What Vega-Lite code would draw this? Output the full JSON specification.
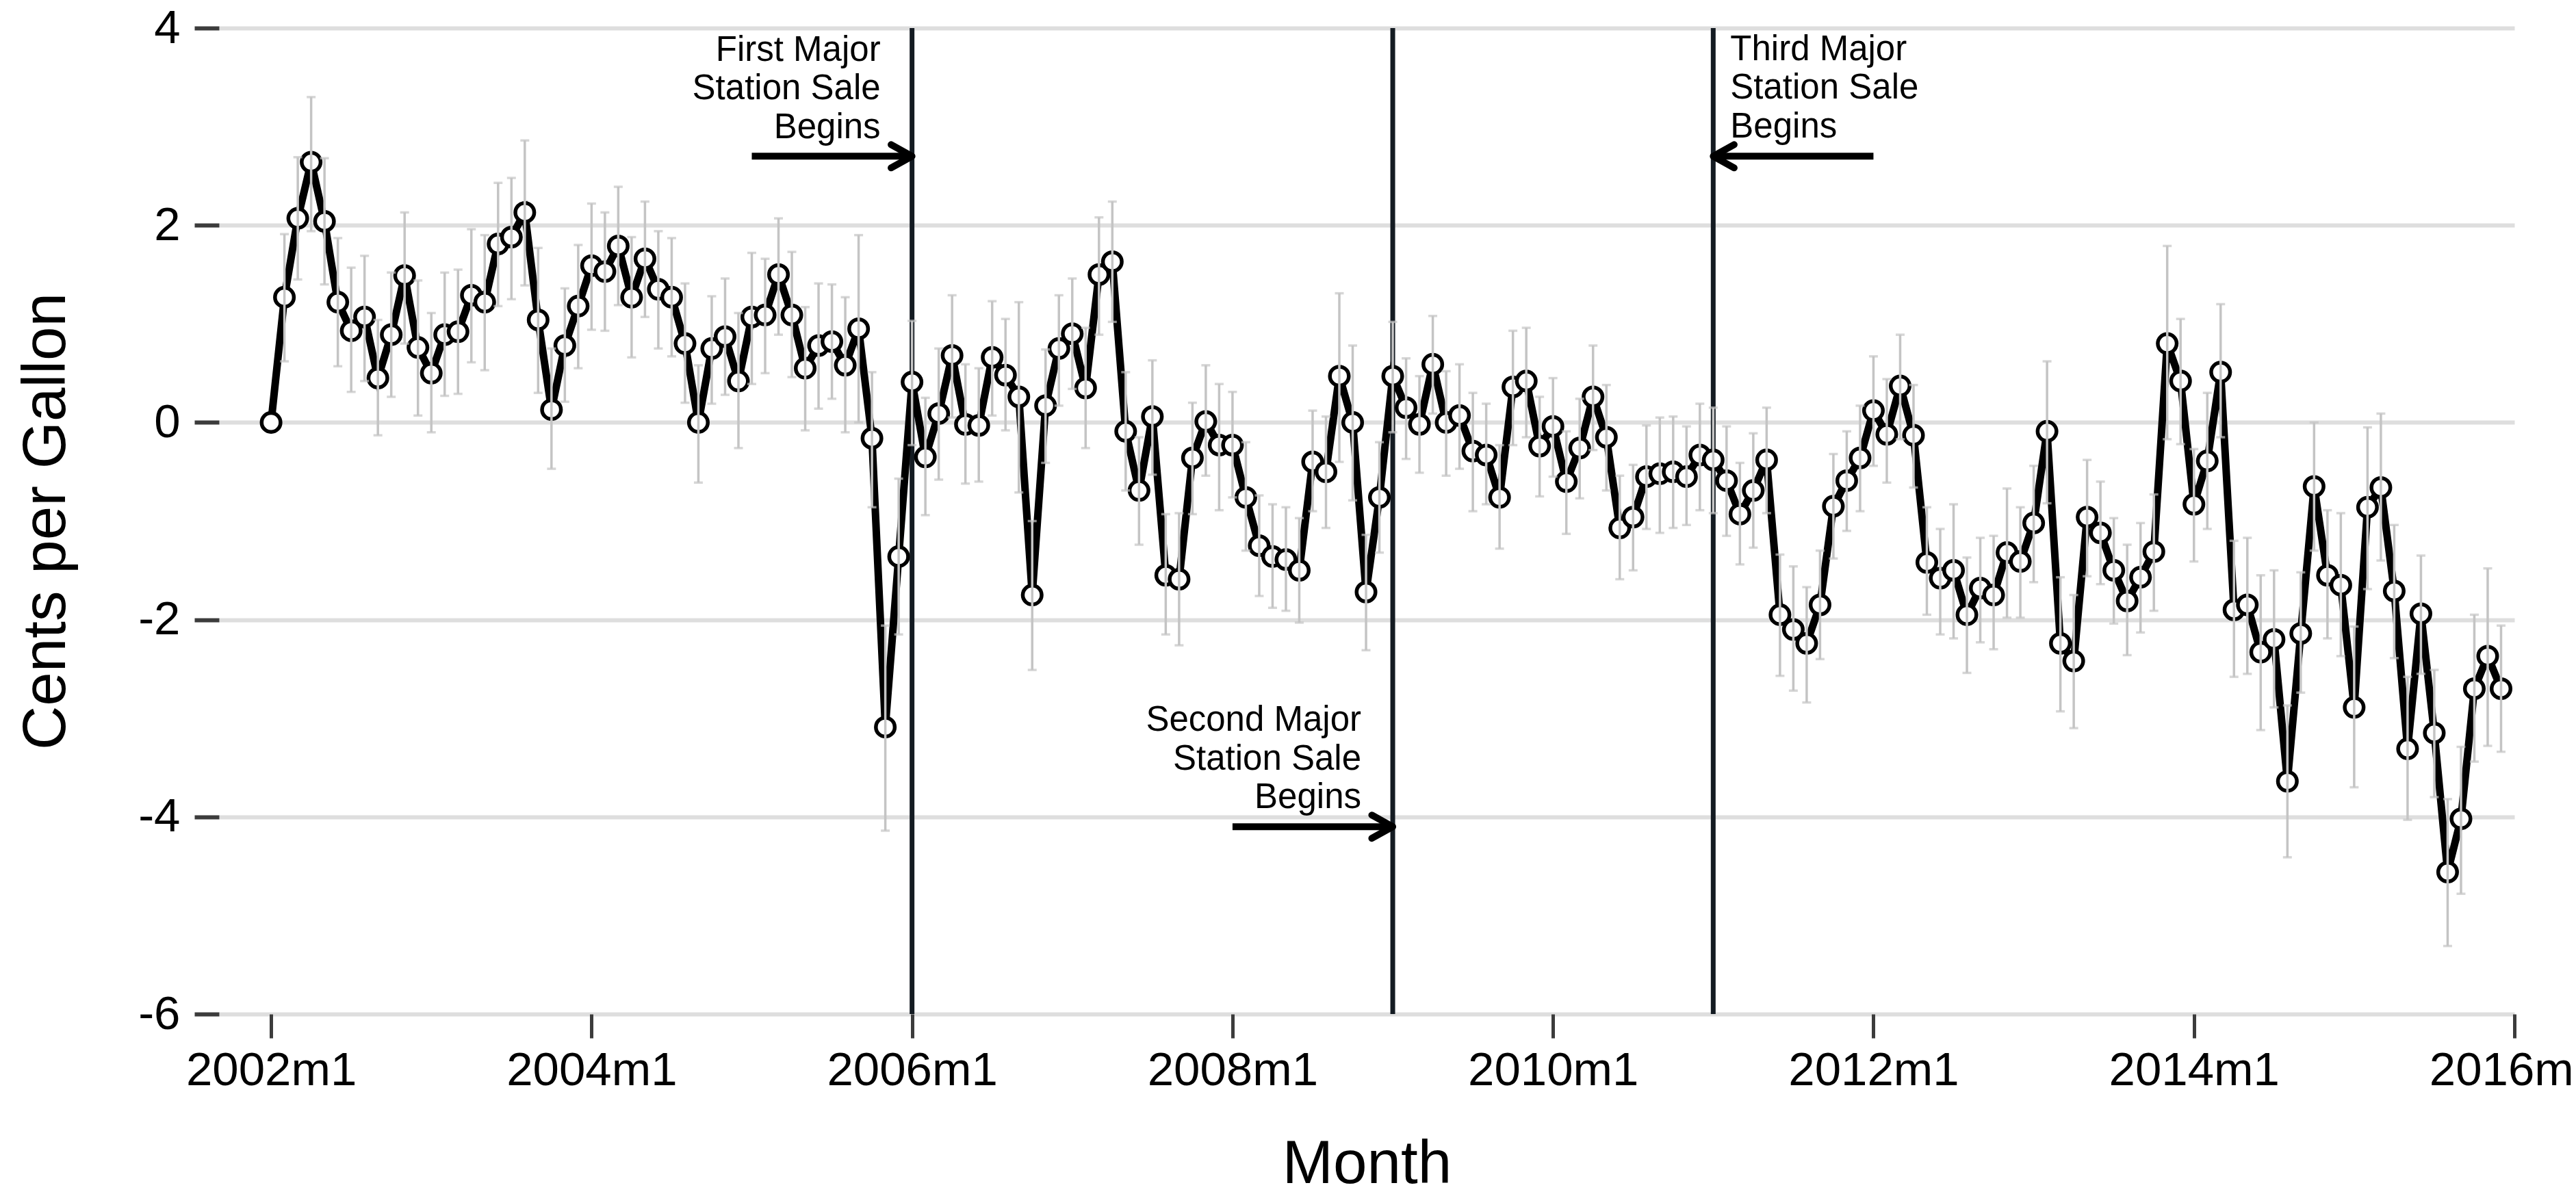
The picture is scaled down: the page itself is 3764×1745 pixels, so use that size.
{
  "$schema": "https://vega.github.io/schema/vega-lite/v6.json",
  "autosize": {"type": "none"},
  "padding": {"left": 320, "top": 41, "right": 90, "bottom": 263},
  "width": 3354,
  "height": 1441,
  "background": "white",
  "config": {
    "view": {"stroke": null},
    "font": "Liberation Sans",
    "axis": {"labelFont": "Liberation Sans", "titleFont": "Liberation Sans", "labelColor": "#000000", "titleColor": "#000000", "titleFontWeight": "normal"}
  },
  "datasets": {
    "series": [
      {"t":0,"est":0},
      {"t":1,"est":1.27,"lo":0.62,"hi":1.91},
      {"t":2,"est":2.07,"lo":1.45,"hi":2.69},
      {"t":3,"est":2.64,"lo":1.94,"hi":3.30},
      {"t":4,"est":2.04,"lo":1.40,"hi":2.68},
      {"t":5,"est":1.22,"lo":0.57,"hi":1.87},
      {"t":6,"est":0.93,"lo":0.31,"hi":1.57},
      {"t":7,"est":1.07,"lo":0.42,"hi":1.69},
      {"t":8,"est":0.45,"lo":-0.13,"hi":1.04},
      {"t":9,"est":0.89,"lo":0.26,"hi":1.52},
      {"t":10,"est":1.49,"lo":0.80,"hi":2.13},
      {"t":11,"est":0.76,"lo":0.07,"hi":1.44},
      {"t":12,"est":0.50,"lo":-0.10,"hi":1.11},
      {"t":13,"est":0.89,"lo":0.27,"hi":1.52},
      {"t":14,"est":0.92,"lo":0.29,"hi":1.55},
      {"t":15,"est":1.29,"lo":0.61,"hi":1.96},
      {"t":16,"est":1.22,"lo":0.53,"hi":1.90},
      {"t":17,"est":1.81,"lo":1.18,"hi":2.43},
      {"t":18,"est":1.88,"lo":1.25,"hi":2.48},
      {"t":19,"est":2.13,"lo":1.39,"hi":2.86},
      {"t":20,"est":1.04,"lo":0.30,"hi":1.77},
      {"t":21,"est":0.13,"lo":-0.47,"hi":0.75},
      {"t":22,"est":0.78,"lo":0.21,"hi":1.36},
      {"t":23,"est":1.18,"lo":0.55,"hi":1.80},
      {"t":24,"est":1.59,"lo":0.94,"hi":2.22},
      {"t":25,"est":1.53,"lo":0.93,"hi":2.13},
      {"t":26,"est":1.79,"lo":1.19,"hi":2.39},
      {"t":27,"est":1.27,"lo":0.66,"hi":1.88},
      {"t":28,"est":1.66,"lo":1.07,"hi":2.24},
      {"t":29,"est":1.35,"lo":0.75,"hi":1.94},
      {"t":30,"est":1.27,"lo":0.67,"hi":1.87},
      {"t":31,"est":0.80,"lo":0.20,"hi":1.41},
      {"t":32,"est":0.00,"lo":-0.61,"hi":0.58},
      {"t":33,"est":0.75,"lo":0.19,"hi":1.28},
      {"t":34,"est":0.87,"lo":0.28,"hi":1.46},
      {"t":35,"est":0.42,"lo":-0.26,"hi":1.11},
      {"t":36,"est":1.07,"lo":0.39,"hi":1.72},
      {"t":37,"est":1.09,"lo":0.50,"hi":1.66},
      {"t":38,"est":1.50,"lo":0.89,"hi":2.07},
      {"t":39,"est":1.09,"lo":0.46,"hi":1.73},
      {"t":40,"est":0.55,"lo":-0.08,"hi":1.17},
      {"t":41,"est":0.78,"lo":0.14,"hi":1.41},
      {"t":42,"est":0.82,"lo":0.24,"hi":1.40},
      {"t":43,"est":0.58,"lo":-0.10,"hi":1.27},
      {"t":44,"est":0.95,"lo":0.00,"hi":1.90},
      {"t":45,"est":-0.16,"lo":-0.86,"hi":0.51},
      {"t":46,"est":-3.09,"lo":-4.14,"hi":-2.06},
      {"t":47,"est":-1.36,"lo":-2.15,"hi":-0.57},
      {"t":48,"est":0.41,"lo":-0.23,"hi":1.03},
      {"t":49,"est":-0.35,"lo":-0.94,"hi":0.25},
      {"t":50,"est":0.09,"lo":-0.58,"hi":0.75},
      {"t":51,"est":0.68,"lo":0.05,"hi":1.29},
      {"t":52,"est":-0.02,"lo":-0.62,"hi":0.59},
      {"t":53,"est":-0.03,"lo":-0.60,"hi":0.55},
      {"t":54,"est":0.66,"lo":0.07,"hi":1.23},
      {"t":55,"est":0.48,"lo":-0.08,"hi":1.05},
      {"t":56,"est":0.26,"lo":-0.71,"hi":1.22},
      {"t":57,"est":-1.75,"lo":-2.51,"hi":-1.00},
      {"t":58,"est":0.17,"lo":-0.41,"hi":0.74},
      {"t":59,"est":0.75,"lo":0.17,"hi":1.29},
      {"t":60,"est":0.90,"lo":0.34,"hi":1.46},
      {"t":61,"est":0.35,"lo":-0.26,"hi":0.96},
      {"t":62,"est":1.50,"lo":0.89,"hi":2.08},
      {"t":63,"est":1.63,"lo":1.02,"hi":2.24},
      {"t":64,"est":-0.09,"lo":-0.69,"hi":0.51},
      {"t":65,"est":-0.69,"lo":-1.24,"hi":-0.15},
      {"t":66,"est":0.06,"lo":-0.53,"hi":0.63},
      {"t":67,"est":-1.55,"lo":-2.15,"hi":-0.93},
      {"t":68,"est":-1.59,"lo":-2.26,"hi":-0.92},
      {"t":69,"est":-0.36,"lo":-0.93,"hi":0.20},
      {"t":70,"est":0.01,"lo":-0.54,"hi":0.58},
      {"t":71,"est":-0.23,"lo":-0.89,"hi":0.39},
      {"t":72,"est":-0.23,"lo":-0.76,"hi":0.31},
      {"t":73,"est":-0.76,"lo":-1.30,"hi":-0.20},
      {"t":74,"est":-1.25,"lo":-1.76,"hi":-0.74},
      {"t":75,"est":-1.36,"lo":-1.88,"hi":-0.83},
      {"t":76,"est":-1.39,"lo":-1.91,"hi":-0.86},
      {"t":77,"est":-1.50,"lo":-2.03,"hi":-0.97},
      {"t":78,"est":-0.40,"lo":-0.90,"hi":0.12},
      {"t":79,"est":-0.50,"lo":-1.07,"hi":0.06},
      {"t":80,"est":0.47,"lo":-0.40,"hi":1.31},
      {"t":81,"est":0.00,"lo":-0.79,"hi":0.78},
      {"t":82,"est":-1.72,"lo":-2.31,"hi":-1.14},
      {"t":83,"est":-0.76,"lo":-1.32,"hi":-0.20},
      {"t":84,"est":0.47,"lo":-0.10,"hi":1.02},
      {"t":85,"est":0.15,"lo":-0.37,"hi":0.65},
      {"t":86,"est":-0.02,"lo":-0.51,"hi":0.47},
      {"t":87,"est":0.59,"lo":0.09,"hi":1.08},
      {"t":88,"est":0.00,"lo":-0.54,"hi":0.52},
      {"t":89,"est":0.07,"lo":-0.47,"hi":0.59},
      {"t":90,"est":-0.29,"lo":-0.90,"hi":0.30},
      {"t":91,"est":-0.33,"lo":-0.83,"hi":0.19},
      {"t":92,"est":-0.76,"lo":-1.28,"hi":-0.23},
      {"t":93,"est":0.36,"lo":-0.23,"hi":0.93},
      {"t":94,"est":0.42,"lo":-0.15,"hi":0.96},
      {"t":95,"est":-0.24,"lo":-0.75,"hi":0.26},
      {"t":96,"est":-0.04,"lo":-0.55,"hi":0.45},
      {"t":97,"est":-0.60,"lo":-1.13,"hi":-0.09},
      {"t":98,"est":-0.26,"lo":-0.77,"hi":0.24},
      {"t":99,"est":0.26,"lo":-0.28,"hi":0.78},
      {"t":100,"est":-0.15,"lo":-0.69,"hi":0.38},
      {"t":101,"est":-1.07,"lo":-1.59,"hi":-0.54},
      {"t":102,"est":-0.96,"lo":-1.50,"hi":-0.43},
      {"t":103,"est":-0.55,"lo":-1.08,"hi":-0.03},
      {"t":104,"est":-0.52,"lo":-1.12,"hi":0.05},
      {"t":105,"est":-0.50,"lo":-1.07,"hi":0.06},
      {"t":106,"est":-0.55,"lo":-1.04,"hi":-0.04},
      {"t":107,"est":-0.33,"lo":-0.89,"hi":0.19},
      {"t":108,"est":-0.38,"lo":-0.92,"hi":0.15},
      {"t":109,"est":-0.59,"lo":-1.15,"hi":-0.04},
      {"t":110,"est":-0.93,"lo":-1.44,"hi":-0.41},
      {"t":111,"est":-0.69,"lo":-1.27,"hi":-0.11},
      {"t":112,"est":-0.38,"lo":-0.92,"hi":0.15},
      {"t":113,"est":-1.95,"lo":-2.57,"hi":-1.34},
      {"t":114,"est":-2.10,"lo":-2.72,"hi":-1.46},
      {"t":115,"est":-2.24,"lo":-2.84,"hi":-1.67},
      {"t":116,"est":-1.85,"lo":-2.40,"hi":-1.30},
      {"t":117,"est":-0.85,"lo":-1.38,"hi":-0.32},
      {"t":118,"est":-0.59,"lo":-1.10,"hi":-0.09},
      {"t":119,"est":-0.36,"lo":-0.90,"hi":0.17},
      {"t":120,"est":0.12,"lo":-0.44,"hi":0.67},
      {"t":121,"est":-0.12,"lo":-0.61,"hi":0.44},
      {"t":122,"est":0.37,"lo":-0.17,"hi":0.89},
      {"t":123,"est":-0.13,"lo":-0.66,"hi":0.38},
      {"t":124,"est":-1.42,"lo":-1.95,"hi":-0.86},
      {"t":125,"est":-1.58,"lo":-2.15,"hi":-1.08},
      {"t":126,"est":-1.50,"lo":-2.19,"hi":-0.83},
      {"t":127,"est":-1.95,"lo":-2.54,"hi":-1.37},
      {"t":128,"est":-1.68,"lo":-2.23,"hi":-1.17},
      {"t":129,"est":-1.75,"lo":-2.30,"hi":-1.15},
      {"t":130,"est":-1.32,"lo":-1.98,"hi":-0.67},
      {"t":131,"est":-1.41,"lo":-1.98,"hi":-0.86},
      {"t":132,"est":-1.02,"lo":-1.62,"hi":-0.44},
      {"t":133,"est":-0.09,"lo":-0.82,"hi":0.62},
      {"t":134,"est":-2.24,"lo":-2.93,"hi":-1.57},
      {"t":135,"est":-2.42,"lo":-3.10,"hi":-1.75},
      {"t":136,"est":-0.96,"lo":-1.56,"hi":-0.38},
      {"t":137,"est":-1.12,"lo":-1.64,"hi":-0.60},
      {"t":138,"est":-1.50,"lo":-2.04,"hi":-0.97},
      {"t":139,"est":-1.81,"lo":-2.36,"hi":-1.24},
      {"t":140,"est":-1.57,"lo":-2.13,"hi":-1.02},
      {"t":141,"est":-1.31,"lo":-1.91,"hi":-0.73},
      {"t":142,"est":0.80,"lo":-0.17,"hi":1.79},
      {"t":143,"est":0.42,"lo":-0.22,"hi":1.05},
      {"t":144,"est":-0.83,"lo":-1.41,"hi":-0.27},
      {"t":145,"est":-0.39,"lo":-1.08,"hi":0.30},
      {"t":146,"est":0.51,"lo":-0.15,"hi":1.20},
      {"t":147,"est":-1.90,"lo":-2.58,"hi":-1.20},
      {"t":148,"est":-1.85,"lo":-2.55,"hi":-1.17},
      {"t":149,"est":-2.33,"lo":-3.12,"hi":-1.55},
      {"t":150,"est":-2.20,"lo":-2.89,"hi":-1.50},
      {"t":151,"est":-3.64,"lo":-4.41,"hi":-2.87},
      {"t":152,"est":-2.14,"lo":-2.74,"hi":-1.52},
      {"t":153,"est":-0.65,"lo":-1.30,"hi":0.00},
      {"t":154,"est":-1.55,"lo":-2.19,"hi":-0.89},
      {"t":155,"est":-1.65,"lo":-2.37,"hi":-0.92},
      {"t":156,"est":-2.89,"lo":-3.70,"hi":-2.07},
      {"t":157,"est":-0.86,"lo":-1.69,"hi":-0.05},
      {"t":158,"est":-0.66,"lo":-1.40,"hi":0.09},
      {"t":159,"est":-1.71,"lo":-2.39,"hi":-1.04},
      {"t":160,"est":-3.31,"lo":-4.03,"hi":-2.58},
      {"t":161,"est":-1.94,"lo":-2.55,"hi":-1.35},
      {"t":162,"est":-3.15,"lo":-3.80,"hi":-2.51},
      {"t":163,"est":-4.56,"lo":-5.31,"hi":-3.82},
      {"t":164,"est":-4.02,"lo":-4.78,"hi":-3.29},
      {"t":165,"est":-2.70,"lo":-3.44,"hi":-1.95},
      {"t":166,"est":-2.37,"lo":-3.28,"hi":-1.48},
      {"t":167,"est":-2.70,"lo":-3.34,"hi":-2.06}
    ],
    "events": [{"t": 48}, {"t": 84}, {"t": 108}],
    "notes": [
      {"label": "First Major\nStation Sale\nBegins", "tip": 48, "start": 36, "ay": 2.7, "ty": 3.667, "side": "right"},
      {"label": "Second Major\nStation Sale\nBegins", "tip": 84, "start": 72, "ay": -4.1, "ty": -3.13, "side": "right"},
      {"label": "Third Major\nStation Sale\nBegins", "tip": 108, "start": 120, "ay": 2.7, "ty": 3.674, "side": "left"}
    ]
  },
  "layer": [
    {
      "data": {"name": "events"},
      "mark": {"type": "rule", "color": "#141b22", "strokeWidth": 7},
      "encoding": {
        "x": {"field": "t", "type": "quantitative", "title": "Month", "scale": {"domain": [-3.9, 168], "nice": false, "zero": false}}
      }
    },
    {
      "data": {"name": "series"},
      "mark": {"type": "line", "color": "#000000", "strokeWidth": 11, "strokeJoin": "miter"},
      "encoding": {
        "x": {
          "field": "t", "type": "quantitative", "title": "Month",
          "scale": {"domain": [-3.9, 168], "nice": false, "zero": false},
          "axis": {
            "values": [0, 24, 48, 72, 96, 120, 144, 168],
            "labelExpr": "(2002 + datum.value / 12) + 'm1'",
            "labelFontSize": 69, "labelPadding": 13, "labelFlush": false, "labelOverlap": false, "labelLimit": 0,
            "tickSize": 35, "tickWidth": 5, "tickColor": "#3c3c3c",
            "domain": false, "grid": false,
            "titleFontSize": 89, "titleY": 246, "titleBaseline": "alphabetic"
          }
        },
        "y": {
          "field": "est", "type": "quantitative", "title": "Cents per Gallon",
          "scale": {"domain": [-6, 4], "nice": false, "zero": false},
          "axis": {
            "values": [-6, -4, -2, 0, 2, 4],
            "labelExpr": "datum.value + ''",
            "labelFontSize": 69, "labelPadding": 21, "labelLimit": 0,
            "tickSize": 36, "tickWidth": 6, "tickColor": "#3c3c3c",
            "domain": false, "grid": true, "gridColor": "#dedede", "gridWidth": 6,
            "titleFontSize": 89, "titleX": -226, "titleAngle": 270, "titleBaseline": "alphabetic"
          }
        }
      }
    },
    {
      "data": {"name": "series"},
      "mark": {"type": "point", "shape": "circle", "size": 760, "filled": false, "fill": "#ffffff", "fillOpacity": 1, "stroke": "#000000", "strokeWidth": 5.5, "opacity": 1},
      "encoding": {
        "x": {"field": "t", "type": "quantitative", "title": "Month", "scale": {"domain": [-3.9, 168], "nice": false, "zero": false}},
        "y": {"field": "est", "type": "quantitative", "title": "Cents per Gallon", "scale": {"domain": [-6, 4], "nice": false, "zero": false}}
      }
    },
    {
      "data": {"name": "series"},
      "transform": [{"filter": "isValid(datum.lo)"}],
      "mark": {"type": "errorbar", "color": "#c4c4c4", "rule": {"strokeWidth": 3.5}, "ticks": {"size": 13, "thickness": 3.5}},
      "encoding": {
        "x": {"field": "t", "type": "quantitative", "title": "Month", "scale": {"domain": [-3.9, 168], "nice": false, "zero": false}},
        "y": {"field": "lo", "type": "quantitative", "title": "Cents per Gallon", "scale": {"domain": [-6, 4], "nice": false, "zero": false}},
        "y2": {"field": "hi"}
      }
    },
    {
      "data": {"name": "notes"},
      "mark": {"type": "rule", "color": "#000000", "strokeWidth": 10, "strokeCap": "butt"},
      "encoding": {
        "x": {"field": "start", "type": "quantitative", "title": "Month", "scale": {"domain": [-3.9, 168], "nice": false, "zero": false}},
        "x2": {"field": "tip"},
        "y": {"field": "ay", "type": "quantitative", "title": "Cents per Gallon", "scale": {"domain": [-6, 4], "nice": false, "zero": false}}
      }
    },
    {
      "data": {"name": "notes"},
      "mark": {"type": "point", "shape": "M -1.8 -1 L 0 0 L -1.8 1", "size": 1156, "filled": false, "stroke": "#000000", "strokeWidth": 10, "strokeCap": "round", "strokeJoin": "round", "opacity": 1},
      "encoding": {
        "x": {"field": "tip", "type": "quantitative", "title": "Month", "scale": {"domain": [-3.9, 168], "nice": false, "zero": false}},
        "y": {"field": "ay", "type": "quantitative", "title": "Cents per Gallon", "scale": {"domain": [-6, 4], "nice": false, "zero": false}},
        "angle": {"condition": {"test": "datum.side == 'left'", "value": 180}, "value": 0}
      }
    },
    {
      "data": {"name": "notes"},
      "transform": [{"filter": "datum.side == 'right'"}],
      "mark": {"type": "text", "align": "right", "baseline": "alphabetic", "dx": -46, "fontSize": 51, "lineHeight": 56.5, "lineBreak": "\n", "font": "Liberation Sans", "color": "#000000"},
      "encoding": {
        "x": {"field": "tip", "type": "quantitative", "title": "Month", "scale": {"domain": [-3.9, 168], "nice": false, "zero": false}},
        "y": {"field": "ty", "type": "quantitative", "title": "Cents per Gallon", "scale": {"domain": [-6, 4], "nice": false, "zero": false}},
        "text": {"field": "label"}
      }
    },
    {
      "data": {"name": "notes"},
      "transform": [{"filter": "datum.side == 'left'"}],
      "mark": {"type": "text", "align": "left", "baseline": "alphabetic", "dx": 25, "fontSize": 51, "lineHeight": 56.5, "lineBreak": "\n", "font": "Liberation Sans", "color": "#000000"},
      "encoding": {
        "x": {"field": "tip", "type": "quantitative", "title": "Month", "scale": {"domain": [-3.9, 168], "nice": false, "zero": false}},
        "y": {"field": "ty", "type": "quantitative", "title": "Cents per Gallon", "scale": {"domain": [-6, 4], "nice": false, "zero": false}},
        "text": {"field": "label"}
      }
    }
  ]
}
